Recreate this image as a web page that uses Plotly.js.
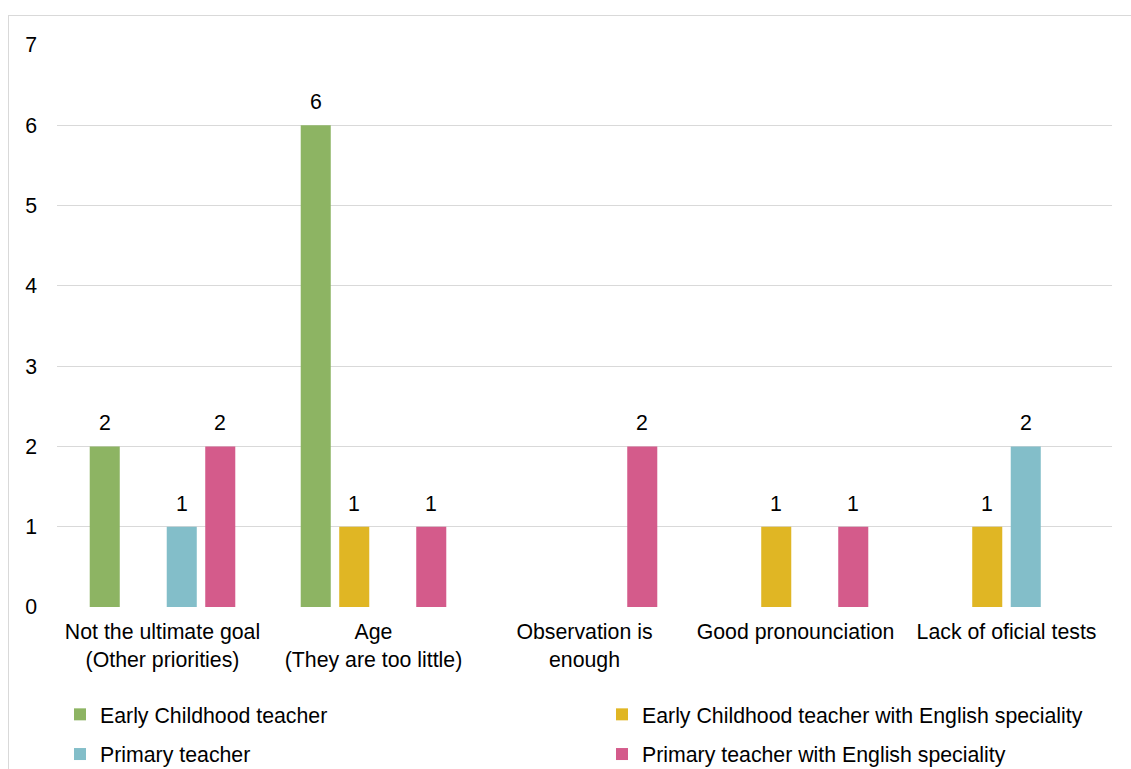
<!DOCTYPE html>
<html>
<head>
<meta charset="utf-8">
<script src="https://cdn.plot.ly/plotly-3.0.1.min.js"></script>
<style>
html,body{margin:0;padding:0;background:#fff;overflow:hidden;}
#wrap{position:relative;width:1131px;height:769px;}
#frame{position:absolute;left:8px;top:15px;width:1200px;height:800px;border:1px solid #D9D9D9;box-sizing:border-box;pointer-events:none;}
#chart{position:absolute;left:0;top:0;width:1131px;height:769px;}
</style>
</head>
<body>
<div id="wrap"><div id="frame"></div><div id="chart"></div></div>
<script>
const categories = ["Not the ultimate goal<br>(Other priorities)", "Age<br>(They are too little)", "Observation is<br>enough", "Good pronounciation", "Lack of oficial tests"];
const seriesNames = ["Early Childhood teacher", "Early Childhood teacher with English speciality", "Primary teacher", "Primary teacher with English speciality"];
const earlyChildhood = [2, 6, 0, 0, 0];
const earlyChildhoodEnglish = [0, 1, 0, 1, 1];
const primary = [1, 0, 0, 0, 2];
const primaryEnglish = [2, 1, 2, 1, 0];
const colors = ["#8DB463", "#E0B624", "#83BEC9", "#D45B8B"];
const yTicks = [0, 1, 2, 3, 4, 5, 6, 7];

const seriesValues = [earlyChildhood, earlyChildhoodEnglish, primary, primaryEnglish];
const legendOf = ["legend", "legend2", "legend", "legend2"];
const FONT = "Liberation Sans, Arial, sans-serif";
const FS = 21.3;
const bargap = 0.27;
const bargroupgap = 0.22;

const W = 1131, H = 769;
const M = {l: 57, r: 19, t: 45, b: 162};
const legendTop = 694;

const traces = seriesValues.map((vals, j) => ({
  type: "bar",
  name: seriesNames[j],
  x: categories,
  y: vals,
  legend: legendOf[j],
  legendgroup: "g" + j,
  marker: {color: colors[j], line: {width: 0}},
  hoverinfo: "x+y+name"
}));

const slot = (1 - bargap) / seriesValues.length;
const annotations = [];
seriesValues.forEach((vals, j) => {
  vals.forEach((v, i) => {
    if (v > 0) {
      annotations.push({
        xref: "x", yref: "y",
        x: i + (j - (seriesValues.length - 1) / 2) * slot,
        y: v,
        text: String(v),
        showarrow: false,
        yanchor: "bottom",
        yshift: 9,
        font: {family: FONT, size: FS, color: "#000"}
      });
    }
  });
});

const plotW = W - M.l - M.r;
const legendBase = {
  orientation: "v",
  xref: "paper", yref: "container",
  xanchor: "left", yanchor: "top",
  y: 1 - legendTop / H,
  itemwidth: 30,
  tracegroupgap: 9,
  traceorder: "grouped",
  font: {family: FONT, size: FS, color: "#000"},
  bgcolor: "rgba(0,0,0,0)",
  borderwidth: 0
};

const layout = {
  width: W, height: H,
  margin: M,
  paper_bgcolor: "rgba(0,0,0,0)",
  plot_bgcolor: "rgba(0,0,0,0)",
  barmode: "group",
  bargap: bargap,
  bargroupgap: bargroupgap,
  font: {family: FONT, size: FS, color: "#000"},
  xaxis: {
    type: "category",
    showgrid: false, zeroline: false, showline: false, ticks: "",
    ticklabelstandoff: 10,
    tickfont: {family: FONT, size: FS, color: "#000"},
    fixedrange: true
  },
  yaxis: {
    range: [0, 7],
    tickvals: yTicks,
    ticktext: yTicks.map(String),
    showgrid: true, gridcolor: "#D9D9D9", gridwidth: 1,
    zeroline: false, showline: false, ticks: "",
    ticklabelstandoff: 19,
    tickfont: {family: FONT, size: FS, color: "#000"},
    fixedrange: true
  },
  showlegend: true,
  legend: Object.assign({}, legendBase, {x: (60 - M.l) / plotW}),
  legend2: Object.assign({}, legendBase, {x: (602 - M.l) / plotW}),
  annotations: annotations
};

Plotly.newPlot("chart", traces, layout, {displayModeBar: false, staticPlot: true});
</script>
</body>
</html>
